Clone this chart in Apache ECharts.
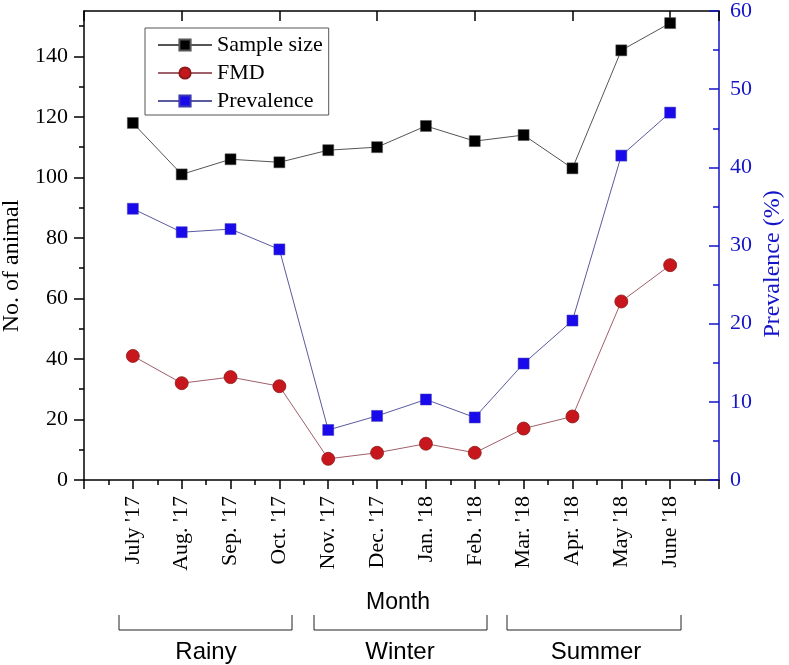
<!DOCTYPE html>
<html>
<head>
<meta charset="utf-8">
<script src="https://cdn.jsdelivr.net/npm/echarts@6/dist/echarts.min.js"></script>
<style>
html,body{margin:0;padding:0;background:#fff;}
#chart{width:789px;height:665px;}
</style>
</head>
<body>
<div id="chart"></div>
<script>
// ---- data ----
const months = ["July '17","Aug. '17","Sep. '17","Oct. '17","Nov. '17","Dec. '17","Jan. '18","Feb. '18","Mar. '18","Apr. '18","May '18","June '18"];
const sampleSize = [118, 101, 106, 105, 109, 110, 117, 112, 114, 103, 142, 151];
const fmd = [41, 32, 34, 31, 7, 9, 12, 9, 17, 21, 59, 71];
const prevalence = [34.7, 31.7, 32.1, 29.5, 6.4, 8.2, 10.3, 8.0, 14.9, 20.4, 41.5, 47.0];
const leftMajorTicks = [0, 20, 40, 60, 80, 100, 120, 140];
const leftMinorTicks = [10, 30, 50, 70, 90, 110, 130, 150];
const seasons = ["Rainy", "Winter", "Summer"];

const serif = '"Liberation Serif","Times New Roman",serif';
const sans = '"Liberation Sans",Arial,sans-serif';
const blue = '#1414c8';

const toXY = arr => arr.map((v, i) => [i + 1, v]);

const chart = echarts.init(document.getElementById('chart'), null, {renderer: 'canvas'});
chart.setOption({
  animation: false,
  backgroundColor: '#fff',
  grid: {left: 84, right: 70, top: 9, bottom: 185, containLabel: false},
  legend: {
    orient: 'vertical',
    left: 145, top: 28,
    padding: [6, 6, 3, 12],
    itemGap: 6,
    itemWidth: 54, itemHeight: 14,
    borderColor: '#555', borderWidth: 1,
    textStyle: {fontFamily: serif, fontSize: 22, color: '#000'},
    data: ['Sample size', 'FMD', 'Prevalence']
  },
  xAxis: [
    {
      type: 'value', min: 0, max: 13, interval: 1, position: 'bottom',
      axisLine: {onZero: false, lineStyle: {color: '#000', width: 1.5}},
      axisTick: {show: true, inside: false, length: 9, lineStyle: {color: '#000', width: 1.5}},
      minorTick: {show: true, splitNumber: 2, length: 5, lineStyle: {color: '#000', width: 1.5}},
      splitLine: {show: false},
      axisLabel: {
        rotate: 90, margin: 16, fontFamily: serif, fontSize: 22, color: '#000',
        formatter: v => (v >= 1 && v <= months.length) ? months[v - 1] : ''
      }
    },
    {
      type: 'value', min: 0, max: 13, interval: 2, position: 'top',
      axisLine: {onZero: false, lineStyle: {color: '#000', width: 1.5}},
      axisTick: {show: true, inside: true, length: 10, lineStyle: {color: '#000', width: 1.5}},
      splitLine: {show: false},
      axisLabel: {show: false}
    }
  ],
  yAxis: [
    {
      type: 'value', min: 0, max: 155, position: 'left',
      axisLine: {show: true, onZero: false, lineStyle: {color: '#000', width: 1.5}},
      axisTick: {show: true, inside: false, length: 10, customValues: leftMajorTicks, lineStyle: {color: '#000', width: 1.5}},
      axisLabel: {margin: 16, customValues: leftMajorTicks, fontFamily: serif, fontSize: 22, color: '#000'},
      splitLine: {show: false}
    },
    {
      type: 'value', min: 0, max: 155, position: 'left',
      axisLine: {show: false, onZero: false},
      axisTick: {show: true, inside: false, length: 5, customValues: leftMinorTicks, lineStyle: {color: '#000', width: 1.5}},
      axisLabel: {show: false},
      splitLine: {show: false}
    },
    {
      type: 'value', min: 0, max: 60, interval: 10, position: 'right',
      axisLine: {show: true, onZero: false, lineStyle: {color: blue, width: 1.5}},
      axisTick: {show: true, inside: true, length: 10, lineStyle: {color: blue, width: 1.5}},
      minorTick: {show: true, splitNumber: 2, length: 6, lineStyle: {color: blue, width: 1.5}},
      axisLabel: {margin: 11, fontFamily: serif, fontSize: 22, color: blue},
      splitLine: {show: false}
    }
  ],
  series: [
    {
      name: 'Sample size', type: 'line', xAxisIndex: 0, yAxisIndex: 0,
      data: toXY(sampleSize),
      symbol: 'rect', symbolSize: 11,
      itemStyle: {color: '#000', borderColor: '#555', borderWidth: 0.5},
      lineStyle: {color: '#555', width: 1}
    },
    {
      name: 'FMD', type: 'line', xAxisIndex: 0, yAxisIndex: 0,
      data: toXY(fmd),
      symbol: 'circle', symbolSize: 13,
      itemStyle: {color: '#c8171c', borderColor: '#8c1a1a', borderWidth: 0.8},
      lineStyle: {color: '#a0606a', width: 1}
    },
    {
      name: 'Prevalence', type: 'line', xAxisIndex: 0, yAxisIndex: 2,
      data: toXY(prevalence),
      symbol: 'rect', symbolSize: 11,
      itemStyle: {color: '#1a0aeb', borderColor: '#3a3ab0', borderWidth: 0.5},
      lineStyle: {color: '#5a5a9e', width: 1}
    }
  ],
  graphic: [
    {type: 'text', x: 12, y: 266, rotation: Math.PI / 2,
     style: {text: 'No. of animal', fontFamily: serif, fontSize: 24, fill: '#000', textAlign: 'center', textVerticalAlign: 'middle'}},
    {type: 'text', x: 773, y: 264, rotation: Math.PI / 2,
     style: {text: 'Prevalence (%)', fontFamily: serif, fontSize: 24, fill: blue, textAlign: 'center', textVerticalAlign: 'middle'}},
    {type: 'text', x: 398, y: 603,
     style: {text: 'Month', fontFamily: sans, fontSize: 23, fill: '#000', textAlign: 'center', textVerticalAlign: 'middle'}},
    {type: 'polyline', shape: {points: [[119, 615], [119, 630], [292, 630], [292, 615]]}, style: {stroke: '#222', lineWidth: 1, fill: null}},
    {type: 'polyline', shape: {points: [[314, 615], [314, 630], [487, 630], [487, 615]]}, style: {stroke: '#222', lineWidth: 1, fill: null}},
    {type: 'polyline', shape: {points: [[507, 615], [507, 630], [681, 630], [681, 615]]}, style: {stroke: '#222', lineWidth: 1, fill: null}},
    {type: 'text', x: 206, y: 652,
     style: {text: seasons[0], fontFamily: sans, fontSize: 24, fill: '#000', textAlign: 'center', textVerticalAlign: 'middle'}},
    {type: 'text', x: 400, y: 652,
     style: {text: seasons[1], fontFamily: sans, fontSize: 24, fill: '#000', textAlign: 'center', textVerticalAlign: 'middle'}},
    {type: 'text', x: 596, y: 652,
     style: {text: seasons[2], fontFamily: sans, fontSize: 24, fill: '#000', textAlign: 'center', textVerticalAlign: 'middle'}}
  ]
});
</script>
</body>
</html>
